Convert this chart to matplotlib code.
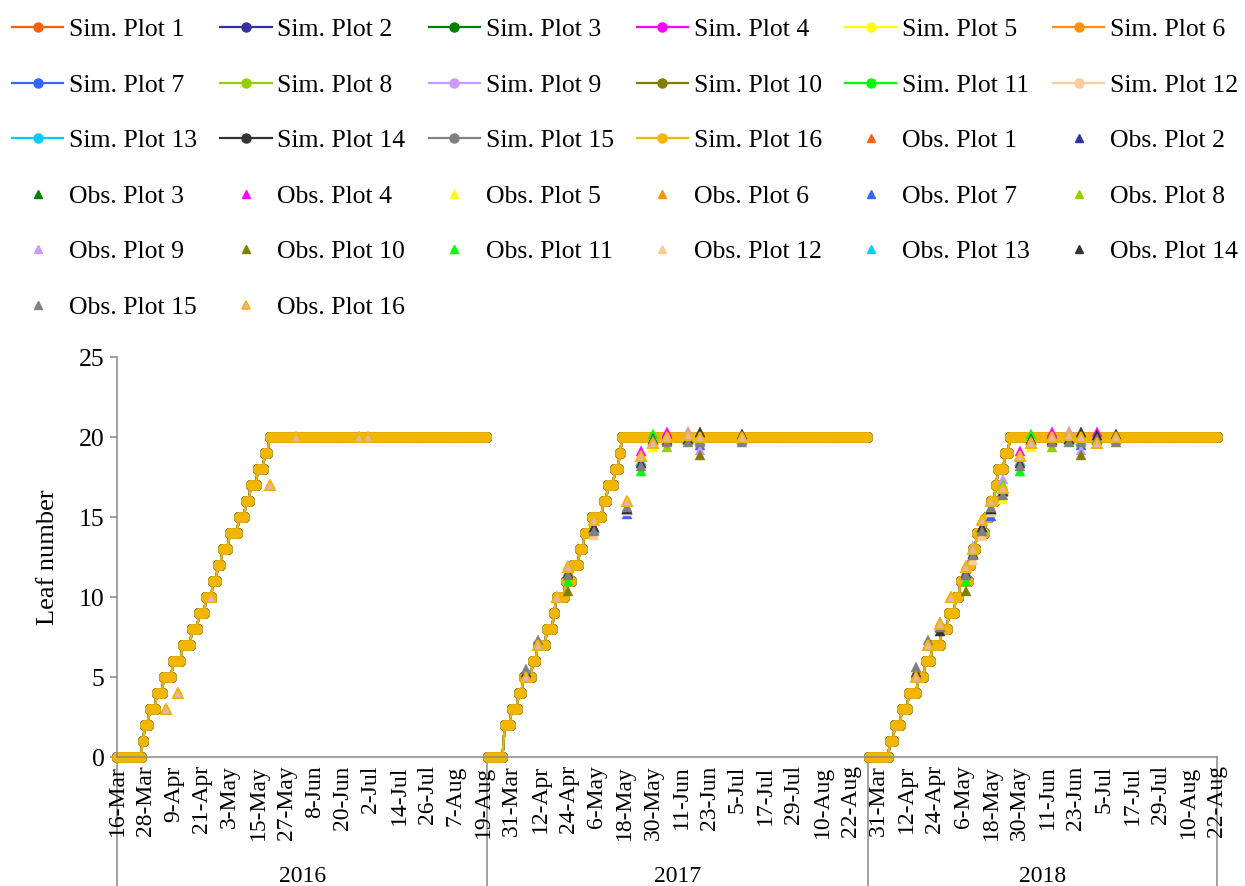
import numpy as np
import pandas as pd
import matplotlib
matplotlib.use('Agg')
import matplotlib.pyplot as plt
from matplotlib.lines import Line2D
import matplotlib.transforms as mtransforms
import matplotlib.colors as mcolors

plt.rcParams['font.family'] = ['Liberation Serif', 'DejaVu Serif']

# ---------------- data ----------------
years = ['2016', '2017', '2018']
season_start = ['2016-03-16', '2017-03-21', '2018-03-27']
season_end = ['2016-08-20', '2017-08-29', '2018-08-22']

plot_ids = [1, 2, 3, 4, 5, 6, 7, 8, 9, 10, 11, 12, 13, 14, 15, 16]
plot_colors = ['#FF6010', '#333399', '#008000', '#FF00FF', '#FFFF00', '#FF9000',
               '#3366FF', '#99CC00', '#CC99FF', '#808000', '#00FF00', '#FFCC99',
               '#00CCFF', '#333333', '#808080', '#F2B500']

# simulated leaf number, run-length encoded (leaf value, number of days)
sim_leaf_2016 = [0, 1, 2, 3, 4, 5, 6, 7, 8, 9, 10, 11, 12, 13, 14, 15, 16, 17, 18, 19, 20]
sim_days_2016 = [11, 1, 2, 3, 3, 4, 4, 4, 3, 3, 3, 2, 2, 3, 4, 3, 2, 3, 3, 2, 93]
sim_leaf_2017 = [0, 2, 3, 4, 5, 6, 7, 8, 9, 10, 11, 12, 13, 14, 15, 16, 17, 18, 19, 20]
sim_days_2017 = [7, 3, 3, 2, 4, 2, 4, 3, 1, 4, 3, 3, 2, 3, 5, 2, 3, 2, 1, 105]
sim_leaf_2018 = [0, 1, 2, 3, 4, 5, 6, 7, 8, 9, 10, 11, 12, 13, 14, 15, 16, 17, 18, 19, 20]
sim_days_2018 = [9, 2, 3, 3, 4, 3, 3, 4, 3, 3, 2, 4, 1, 2, 4, 2, 2, 1, 3, 2, 89]

# observed leaf number
obs_dates_2016 = ['2016-04-06', '2016-04-11', '2016-04-25', '2016-05-20',
                  '2016-05-31', '2016-06-27', '2016-07-01']
obs_2016_all_plots = [3, 4, 10, 17, 20, 20, 20]

obs_dates_2017 = ['2017-04-06', '2017-04-11', '2017-04-19', '2017-04-24', '2017-05-05',
                  '2017-05-19', '2017-05-25', '2017-05-30', '2017-06-05', '2017-06-14',
                  '2017-06-19', '2017-07-07']
obs_2017 = [
    [5.0, 7.0, 10.0, 11.5, 14.3, 15.5, 18.5, 19.8, 19.8, 19.9, 19.8, 19.9],
    [5.0, 7.0, 10.0, 11.5, 14.3, 15.5, 18.5, 19.8, 20.2, 19.9, 19.8, 20.15],
    [5.0, 7.0, 10.0, 11.5, 14.3, 15.5, 18.5, 19.8, 19.8, 19.9, 19.8, 19.9],
    [5.2, 7.0, 10.0, 11.5, 14.3, 15.5, 19.1, 19.8, 20.3, 19.9, 19.8, 19.9],
    [5.0, 7.0, 10.0, 11.5, 14.3, 15.5, 18.5, 19.4, 19.8, 19.9, 19.8, 19.9],
    [5.0, 7.0, 10.0, 11.5, 14.3, 15.5, 18.5, 19.8, 19.8, 19.9, 20.25, 19.9],
    [5.0, 7.0, 10.0, 11.5, 14.3, 15.2, 18.5, 19.8, 19.8, 19.9, 19.5, 19.9],
    [5.0, 7.0, 10.0, 11.5, 14.3, 15.5, 18.5, 19.8, 19.4, 19.9, 19.8, 19.9],
    [5.0, 7.0, 10.0, 12.0, 14.3, 15.5, 18.5, 19.8, 19.8, 20.4, 19.2, 19.9],
    [5.0, 7.0, 10.0, 10.4, 14.3, 15.5, 18.5, 19.8, 19.8, 19.9, 18.9, 19.9],
    [5.0, 7.0, 10.0, 11.0, 14.3, 15.5, 17.9, 20.2, 19.8, 19.9, 19.8, 19.9],
    [5.0, 7.0, 10.0, 11.5, 13.9, 15.4, 18.5, 19.8, 19.8, 19.9, 19.8, 19.9],
    [5.1, 7.0, 10.0, 11.6, 14.3, 15.5, 18.5, 19.8, 19.8, 19.9, 19.8, 19.9],
    [5.3, 7.0, 10.0, 11.5, 14.4, 15.5, 18.4, 19.9, 19.8, 19.9, 20.3, 20.2],
    [5.5, 7.3, 10.0, 11.4, 14.1, 15.6, 18.2, 19.8, 19.7, 19.7, 19.7, 19.7],
    [5.0, 7.0, 10.0, 11.9, 14.8, 16.0, 18.8, 19.6, 20.0, 20.1, 20.0, 20.0],
]

obs_dates_2018 = ['2018-04-16', '2018-04-21', '2018-04-26', '2018-05-01', '2018-05-07',
                  '2018-05-10', '2018-05-14', '2018-05-18', '2018-05-23', '2018-05-30',
                  '2018-06-04', '2018-06-13', '2018-06-20', '2018-06-25', '2018-07-02',
                  '2018-07-10']
obs_2018 = [
    [5.0, 7.0, 8.1, 10.0, 11.5, 12.7, 14.3, 15.5, 16.6, 18.5, 19.8, 19.8, 19.9, 19.8, 19.9, 19.9],
    [5.0, 7.0, 8.1, 10.0, 11.5, 12.7, 14.3, 15.5, 16.6, 18.5, 19.8, 20.2, 19.9, 19.8, 19.9, 20.15],
    [5.0, 7.0, 8.1, 10.0, 11.5, 12.7, 14.3, 15.5, 16.6, 18.5, 19.8, 19.8, 19.9, 19.8, 19.9, 19.9],
    [5.2, 7.0, 8.1, 10.0, 11.5, 12.7, 14.3, 15.5, 16.6, 19.1, 19.8, 20.3, 19.9, 19.8, 20.3, 19.9],
    [5.0, 7.0, 8.1, 10.0, 11.5, 12.7, 14.3, 15.5, 16.1, 18.5, 19.4, 19.8, 19.9, 19.8, 19.9, 19.9],
    [5.0, 7.0, 8.1, 10.0, 11.5, 12.7, 14.3, 15.5, 16.6, 18.5, 19.8, 19.8, 19.9, 20.25, 19.9, 19.9],
    [5.0, 7.0, 8.1, 10.0, 11.5, 12.7, 14.3, 15.05, 16.6, 18.5, 19.8, 19.8, 19.9, 19.5, 19.9, 19.9],
    [5.0, 7.0, 8.1, 10.0, 11.5, 12.7, 14.3, 15.5, 16.6, 18.5, 19.8, 19.4, 19.9, 19.8, 19.9, 19.9],
    [5.0, 7.0, 8.1, 10.0, 12.0, 13.2, 14.3, 15.5, 17.4, 18.5, 19.8, 19.8, 20.4, 19.2, 19.9, 19.9],
    [5.0, 7.0, 8.45, 10.0, 10.4, 12.7, 14.3, 15.5, 16.6, 18.5, 19.8, 19.8, 19.9, 18.9, 19.9, 19.9],
    [5.0, 7.0, 8.1, 10.0, 11.0, 12.7, 14.3, 15.5, 17.0, 17.9, 20.2, 19.8, 19.9, 19.8, 19.9, 19.9],
    [5.0, 7.0, 8.1, 10.0, 11.5, 12.3, 13.8, 15.3, 16.6, 18.5, 19.8, 19.8, 19.9, 19.8, 19.9, 19.9],
    [5.1, 7.0, 8.1, 10.0, 11.6, 12.8, 14.3, 15.5, 16.6, 18.5, 19.8, 19.8, 19.9, 19.8, 19.8, 19.9],
    [5.3, 7.0, 7.9, 10.0, 11.5, 12.7, 14.4, 15.5, 16.6, 18.4, 19.9, 19.8, 19.9, 20.3, 20.1, 20.2],
    [5.6, 7.3, 8.1, 10.0, 11.4, 12.6, 14.1, 15.6, 16.4, 18.2, 19.8, 19.7, 19.7, 19.7, 19.9, 19.7],
    [5.0, 7.0, 8.3, 10.0, 11.9, 13.0, 14.8, 16.0, 16.8, 18.8, 19.6, 20.0, 20.1, 20.0, 19.6, 20.0],
]

y_ticks = [0, 5, 10, 15, 20, 25]
y_label = 'Leaf number'
label_every = 12

# ---------------- category axis ----------------
cats = []
season_span = []
for s, e in zip(season_start, season_end):
    d = pd.date_range(s, e, freq='D')
    season_span.append((len(cats), len(cats) + len(d) - 1))
    cats.extend(list(d))
pos_of = {d: i for i, d in enumerate(cats)}

sim_leaf = [sim_leaf_2016, sim_leaf_2017, sim_leaf_2018]
sim_days = [sim_days_2016, sim_days_2017, sim_days_2018]
obs_dates = [obs_dates_2016, obs_dates_2017, obs_dates_2018]
obs_vals = [[obs_2016_all_plots] * 16, obs_2017, obs_2018]

# ---------------- figure ----------------
W, H = 1245, 886
fig = plt.figure(figsize=(W / 100, H / 100), dpi=100)
ax = fig.add_axes([117 / W, 129 / H, 1100 / W, 400 / H])
ax.set_xlim(0, len(cats) - 1)
ax.set_ylim(0, 25)

gray = '#898989'


def edge_of(c):
    r, g, b = mcolors.to_rgb(c)
    return (r * 0.6 + 0.55 * 0.4, g * 0.6 + 0.5 * 0.4, b * 0.6 + 0.2 * 0.4)


# simulated series
for p, col in zip(plot_ids, plot_colors):
    for k in range(3):
        a, b = season_span[k]
        x = np.arange(a, b + 1)
        y = np.repeat(sim_leaf[k], sim_days[k])
        ax.plot(x, y, color=col, lw=1.6, marker='o', ms=7.4, mfc=col,
                mec=edge_of(col), mew=0.5, clip_on=False, zorder=2)
        ax.plot(x, y, ls='none', marker='o', ms=7.25, mfc=col, mec='none',
                clip_on=False, zorder=2)

# observed series
for i, (p, col) in enumerate(zip(plot_ids, plot_colors)):
    for k in range(3):
        x = [pos_of[pd.Timestamp(d)] for d in obs_dates[k]]
        y = obs_vals[k][i]
        if p == 16:
            ax.plot(x, y, ls='none', marker='^', ms=6.6, mfc='#E0B8A8', mec=col,
                    mew=1.4, clip_on=False, zorder=3)
        else:
            ax.plot(x, y, ls='none', marker='^', ms=7.4, mfc=col, mec=col,
                    mew=0.3, clip_on=False, zorder=3)

# axes styling
for s in ['top', 'right']:
    ax.spines[s].set_visible(False)
for s in ['left', 'bottom']:
    ax.spines[s].set_color(gray)
    ax.spines[s].set_linewidth(1.1)

ax.set_yticks(y_ticks)
ax.set_yticklabels([str(v) for v in y_ticks])
ax.tick_params(axis='y', direction='out', length=5, width=1.1, color=gray,
               labelsize=18.5, pad=4)

tick_pos = list(range(0, len(cats), label_every))
tick_lab = [f"{cats[i].day}-{cats[i].strftime('%b')}" for i in tick_pos]
ax.set_xticks(tick_pos)
ax.set_xticklabels(tick_lab, rotation=90)
ax.tick_params(axis='x', length=0, labelsize=17, pad=6)

ax.set_ylabel(y_label, fontsize=19, va='center')
ax.yaxis.set_label_coords(-0.0627, 0.5)

# group separators and year labels
trans = mtransforms.blended_transform_factory(ax.transData, ax.transAxes)
bounds = [season_span[0][0]]
for k in range(len(season_span) - 1):
    bounds.append((season_span[k][1] + season_span[k + 1][0]) / 2)
bounds.append(season_span[-1][1])
for xb in bounds:
    ax.plot([xb, xb], [0, -0.3225], transform=trans, color=gray, lw=1.1,
            clip_on=False, zorder=1)
for k, yr in enumerate(years):
    mid = (bounds[k] + bounds[k + 1]) / 2
    ax.text(mid, -0.2975, yr, transform=trans, ha='center', va='center',
            fontsize=17)

# legend (Excel fills rows left to right)
handles, labels = [], []
for p, col in zip(plot_ids, plot_colors):
    handles.append(Line2D([], [], color=col, lw=1.6, marker='o', ms=6.5,
                          mfc=col, mec=col))
    labels.append(f'Sim. Plot {p}')
for p, col in zip(plot_ids, plot_colors):
    if p == 16:
        handles.append(Line2D([], [], ls='none', marker='^', ms=5.5,
                              mfc='#E0B8A8', mec=col, mew=1.2))
    else:
        handles.append(Line2D([], [], ls='none', marker='^', ms=6, color=col))
    labels.append(f'Obs. Plot {p}')
ncol = 6
order = [k for c in range(ncol) for k in range(c, len(handles), ncol)]
fig.legend([handles[k] for k in order], [labels[k] for k in order],
           loc='upper left', bbox_to_anchor=(12 / W, 1 - 18 / H), ncol=ncol,
           frameon=False, fontsize=18.5, handlelength=2.0, handletextpad=0.22,
           columnspacing=0.9, labelspacing=1.27, borderpad=0, borderaxespad=0)

fig.savefig('out.png', dpi=100)
